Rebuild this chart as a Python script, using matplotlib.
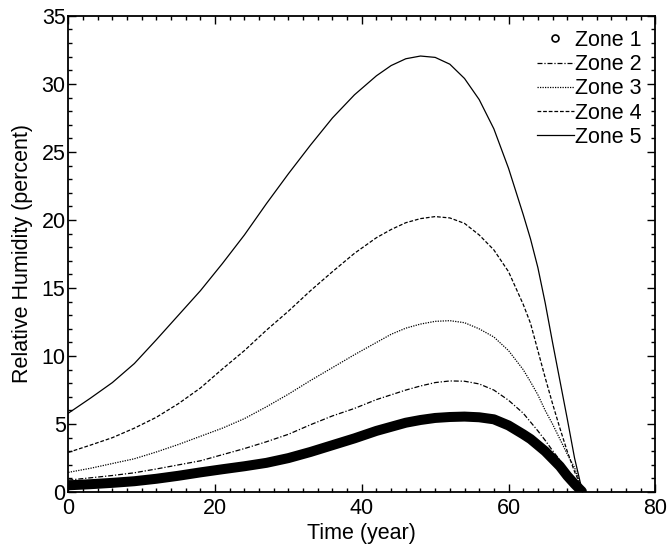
import matplotlib
matplotlib.use("Agg")
import matplotlib.pyplot as plt
from matplotlib.lines import Line2D
from matplotlib.ticker import MultipleLocator

plt.rcParams['font.family'] = ['Liberation Sans', 'DejaVu Sans']

# time axis (years) and relative humidity (percent)
time = [0, 3, 6, 9, 12, 15, 18, 21, 24, 27, 30, 33, 36, 39, 42, 44, 46,
        48, 50, 52, 54, 56, 58, 60, 62, 63, 64, 65, 66, 67, 68, 69, 70]

zone1 = [0.5, 0.58, 0.68, 0.8, 0.98, 1.2, 1.45, 1.68, 1.9, 2.15, 2.5, 2.95,
         3.45, 3.95, 4.5, 4.8, 5.1, 5.3, 5.45, 5.52, 5.55, 5.5, 5.35, 4.9,
         4.25, 3.9, 3.45, 3.0, 2.45, 1.9, 1.2, 0.6, 0.05]
zone2 = [0.88, 1.05, 1.22, 1.42, 1.7, 2.0, 2.3, 2.75, 3.2, 3.7, 4.25, 4.95,
         5.6, 6.15, 6.8, 7.15, 7.5, 7.8, 8.05, 8.17, 8.15, 7.95, 7.5, 6.75,
         5.8, 5.15, 4.5, 3.8, 3.05, 2.35, 1.6, 0.9, 0.3]
zone3 = [1.45, 1.75, 2.1, 2.45, 2.95, 3.5, 4.1, 4.7, 5.4, 6.27, 7.2, 8.2,
         9.15, 10.1, 11.0, 11.6, 12.05, 12.35, 12.55, 12.6, 12.45, 12.0,
         11.4, 10.4, 9.0, 8.1, 7.15, 6.0, 5.0, 3.9, 2.8, 1.8, 0.3]
zone4 = [2.92, 3.45, 4.0, 4.7, 5.5, 6.5, 7.65, 9.05, 10.4, 11.9, 13.3, 14.8,
         16.2, 17.55, 18.7, 19.3, 19.8, 20.1, 20.25, 20.15, 19.75, 18.9,
         17.8, 16.2, 13.8, 12.4, 10.4, 8.4, 6.5, 4.7, 3.0, 1.5, 0.3]
zone5 = [5.8, 6.9, 8.05, 9.45, 11.2, 13.0, 14.8, 16.8, 18.9, 21.2, 23.4,
         25.5, 27.5, 29.2, 30.6, 31.35, 31.85, 32.05, 31.95, 31.45, 30.4,
         28.85, 26.7, 23.8, 20.4, 18.6, 16.5, 13.9, 11.0, 8.2, 5.4, 2.5, 0.2]

fig = plt.figure(figsize=(6.7, 5.48), dpi=100)
ax = fig.add_axes([0.102, 0.102, 0.876, 0.869])

ax.plot(time, zone1, color='black', lw=7.2, solid_capstyle='round',
        solid_joinstyle='round')
l2, = ax.plot(time, zone2, color='black', lw=0.9, ls=(0, (4, 1.5, 1, 1.5)))
l3, = ax.plot(time, zone3, color='black', lw=0.9, ls=(0, (1, 1)))
l4, = ax.plot(time, zone4, color='black', lw=0.9, ls=(0, (3, 1.5)))
l5, = ax.plot(time, zone5, color='black', lw=0.9, ls='-')

h1 = Line2D([], [], ls='none', marker='o', ms=5, mfc='none', mec='black',
            mew=1.2)
ax.legend([h1, l2, l3, l4, l5], ['Zone 1', 'Zone 2', 'Zone 3', 'Zone 4', 'Zone 5'],
          loc='upper right', frameon=False, fontsize=15.5, handlelength=1.7,
          handletextpad=0.05, labelspacing=0.15, borderaxespad=0.25)

ax.set_xlim(0, 80)
ax.set_ylim(0, 35)
ax.xaxis.set_major_locator(MultipleLocator(20))
ax.xaxis.set_minor_locator(MultipleLocator(2))
ax.yaxis.set_major_locator(MultipleLocator(5))
ax.yaxis.set_minor_locator(MultipleLocator(1))
ax.tick_params(which='both', direction='in', top=True, right=True,
               labelsize=15.5, width=1.0)
ax.tick_params(axis='x', pad=4)
ax.tick_params(axis='y', pad=2)
ax.tick_params(which='major', length=6)
ax.tick_params(which='minor', length=3)
for s in ax.spines.values():
    s.set_linewidth(1.3)

ax.set_xlabel('Time (year)', fontsize=15.5, labelpad=3)
ax.set_ylabel('Relative Humidity (percent)', fontsize=15.5, labelpad=6)

fig.savefig('out.png', dpi=100)
